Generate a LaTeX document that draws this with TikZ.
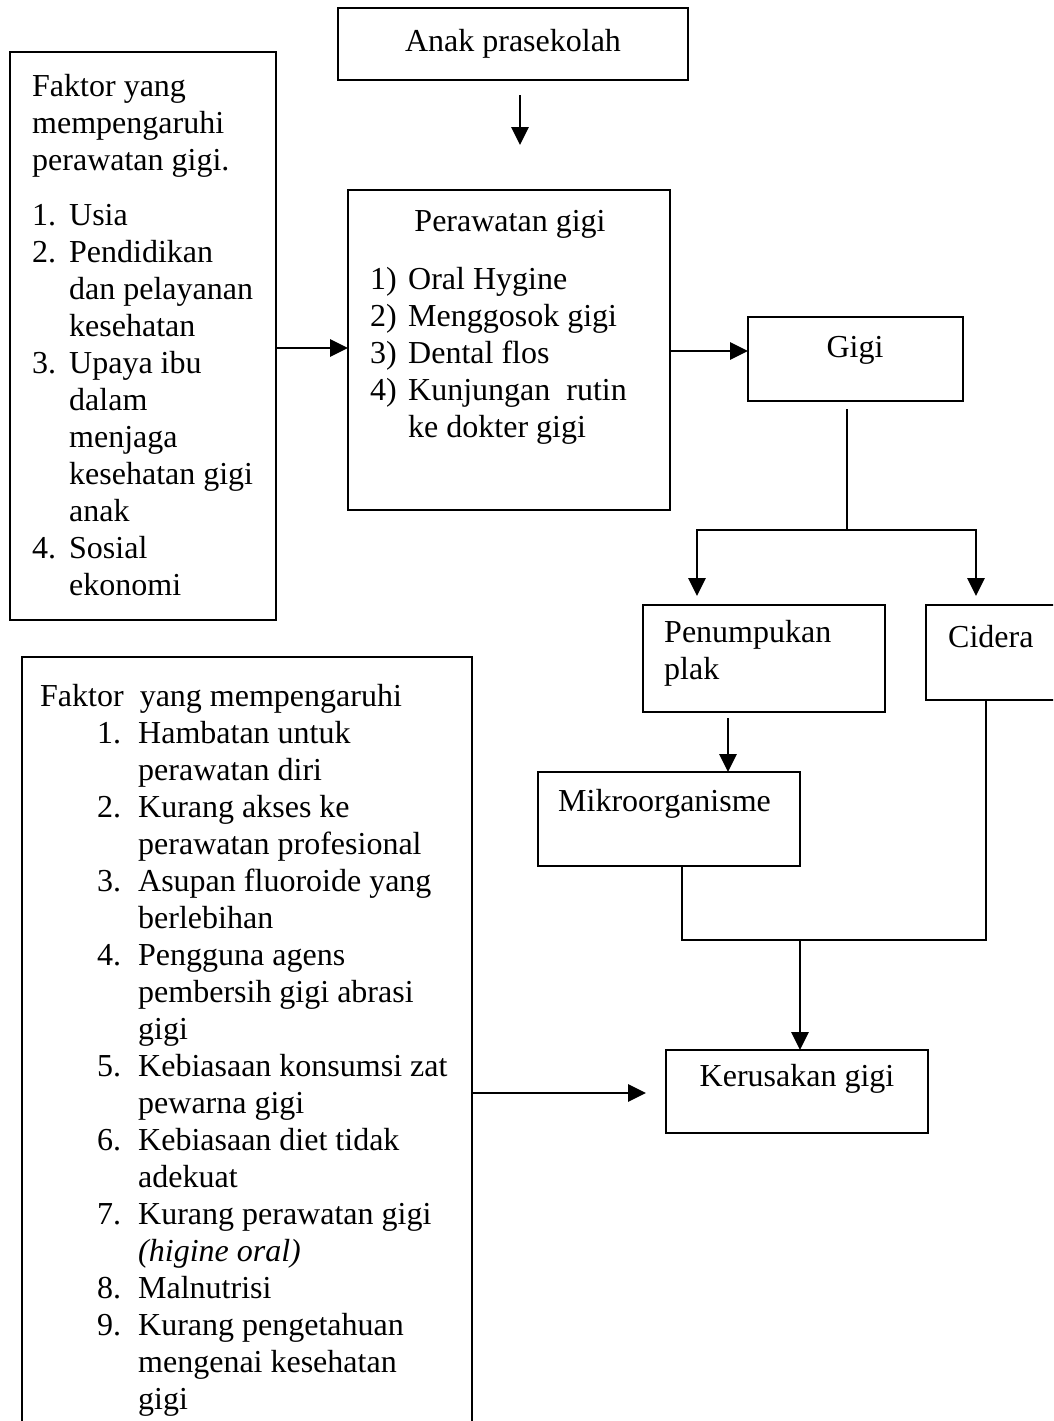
\documentclass[tikz,border=0pt]{standalone}
\usepackage{fontspec}
\setmainfont{Liberation Serif}
\usetikzlibrary{arrows.meta}
\begin{document}
\begin{tikzpicture}[x=1pt,y=-1pt,
  box/.style={draw, line width=2.8pt, rectangle, inner sep=0pt, outer sep=0pt, anchor=north west},
  txt/.style={inner sep=0pt, font=\fontsize{32}{37}\selectfont, align=left},
  arr/.style={line width=2.8pt, -{Triangle[length=18pt,width=17pt]}},
  ln/.style={line width=2.8pt}]
\path[use as bounding box] (0,0) rectangle (1053,1421);
\clip (0,0) rectangle (1053,1421);
% boxes
\node[box, minimum width=350pt, minimum height=72pt] (anak) at (338,8) {};
\node[box, minimum width=266pt, minimum height=568pt] (f1) at (10,52) {};
\node[box, minimum width=322pt, minimum height=320pt] (per) at (348,190) {};
\node[box, minimum width=215pt, minimum height=84pt] (gigi) at (748,317) {};
\node[box, minimum width=242pt, minimum height=107pt] (plak) at (643,605) {};
\node[box, minimum width=140pt, minimum height=95pt] (cid) at (926,605) {};
\node[box, minimum width=262pt, minimum height=94pt] (mikro) at (538,772) {};
\node[box, minimum width=262pt, minimum height=83pt] (ker) at (666,1050) {};
\node[box, minimum width=450pt, minimum height=800pt] (f2) at (22,657) {};
% texts
\node[txt, anchor=center] (anakt) at (513,44) {Anak prasekolah};
\node[txt, anchor=north west] (f1t) at (32,74) {Faktor yang\\mempengaruhi\\perawatan gigi.\\[18pt]%
\makebox[37pt][l]{1.}Usia\\
\makebox[37pt][l]{2.}Pendidikan\\
\hspace*{37pt}dan pelayanan\\
\hspace*{37pt}kesehatan\\
\makebox[37pt][l]{3.}Upaya ibu\\
\hspace*{37pt}dalam\\
\hspace*{37pt}menjaga\\
\hspace*{37pt}kesehatan gigi\\
\hspace*{37pt}anak\\
\makebox[37pt][l]{4.}Sosial\\
\hspace*{37pt}ekonomi};
\node[txt, anchor=center] (pert) at (510,224) {Perawatan gigi};
\node[txt, anchor=north west] (perl) at (370,267) {\makebox[38pt][l]{1)}Oral Hygine\\
\makebox[38pt][l]{2)}Menggosok gigi\\
\makebox[38pt][l]{3)}Dental flos\\
\makebox[38pt][l]{4)}Kunjungan\ \ rutin\\
\hspace*{38pt}ke dokter gigi};
\node[txt, anchor=center] (gigit) at (855,350) {Gigi};
\node[txt, anchor=north west] (plakt) at (664,620) {Penumpukan\\plak};
\node[txt, anchor=west] (cidt) at (948,637) {Cidera};
\node[txt, anchor=west] (mikrot) at (558,804) {Mikroorganisme};
\node[txt, anchor=center] (kert) at (797,1079) {Kerusakan gigi};
\node[txt, anchor=north west] (f2t) at (40,684) {Faktor\ \ yang mempengaruhi\\
\hspace*{57pt}\makebox[41pt][l]{1.}Hambatan untuk\\
\hspace*{98pt}perawatan diri\\
\hspace*{57pt}\makebox[41pt][l]{2.}Kurang akses ke\\
\hspace*{98pt}perawatan profesional\\
\hspace*{57pt}\makebox[41pt][l]{3.}Asupan fluoroide yang\\
\hspace*{98pt}berlebihan\\
\hspace*{57pt}\makebox[41pt][l]{4.}Pengguna agens\\
\hspace*{98pt}pembersih gigi abrasi\\
\hspace*{98pt}gigi\\
\hspace*{57pt}\makebox[41pt][l]{5.}Kebiasaan konsumsi zat\\
\hspace*{98pt}pewarna gigi\\
\hspace*{57pt}\makebox[41pt][l]{6.}Kebiasaan diet tidak\\
\hspace*{98pt}adekuat\\
\hspace*{57pt}\makebox[41pt][l]{7.}Kurang perawatan gigi\\
\hspace*{98pt}\textit{(higine oral)}\\
\hspace*{57pt}\makebox[41pt][l]{8.}Malnutrisi\\
\hspace*{57pt}\makebox[41pt][l]{9.}Kurang pengetahuan\\
\hspace*{98pt}mengenai kesehatan\\
\hspace*{98pt}gigi};
% connectors
\draw[arr, shorten <=15pt, shorten >=45pt] ([xshift=7pt]anak.south) -- ([xshift=7pt]anak.south |- per.north);
\draw[arr] (f1.east |- 0,348) -- (per.west |- 0,348);
\draw[arr] (per.east |- 0,351) -- (gigi.west |- 0,351);
\coordinate (sp) at (847,530);
\draw[ln] ([xshift=-8.5pt,yshift=-8pt]gigi.south) -- (sp);
\draw[arr, shorten >=9pt] (sp) -| ([xshift=-67pt]plak.north);
\draw[arr, shorten >=9pt] (sp) -| ([xshift=-20pt]cid.north);
\draw[arr, shorten <=6pt] ([xshift=-36pt]plak.south) -- ([xshift=-36pt]plak.south |- mikro.north);
\coordinate (jn) at (800,940);
\draw[ln] ([xshift=13pt]mikro.south) |- ([xshift=-10pt]cid.south |- jn) -- ([xshift=-10pt]cid.south);
\draw[arr] (jn) -- (jn |- ker.north);
\draw[arr, shorten >=20pt] (f2.east |- 0,1093) -- (ker.west |- 0,1093);
\end{tikzpicture}
\end{document}
